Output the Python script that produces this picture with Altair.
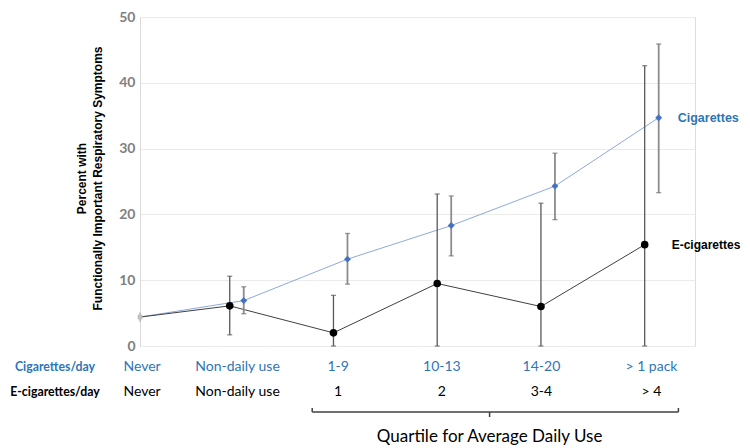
import altair as alt
import pandas as pd

# ---- data ----
cig_categories = ["Never", "Non-daily use", "1-9", "10-13", "14-20", "> 1 pack"]
ecig_categories = ["Never", "Non-daily use", "1", "2", "3-4", "> 4"]
cig_x = [0, 1, 2, 3, 4, 5]
ecig_x = [0, 0.865, 1.865, 2.865, 3.865, 4.865]
label_x = [0.02, 0.94, 1.91, 2.91, 3.87, 4.93]

cig_val = [4.4, 6.9, 13.2, 18.3, 24.3, 34.7]
cig_lo = [3.7, 4.9, 9.4, 13.7, 19.2, 23.3]
cig_hi = [5.1, 9.0, 17.1, 22.8, 29.3, 45.9]

ecig_val = [4.4, 6.1, 2.0, 9.5, 6.0, 15.4]
ecig_lo = [3.7, 1.7, 0.0, 0.0, 0.0, 0.0]
ecig_hi = [5.1, 10.6, 7.7, 23.1, 21.7, 42.6]

bracket_x = [1.66, 5.19]
bracket_mid = 3.37

y_ticks = [0, 10, 20, 30, 40, 50]

cig = pd.DataFrame({"x": cig_x, "v": cig_val, "lo": cig_lo, "hi": cig_hi, "cat": cig_categories})
ecig = pd.DataFrame({"x": ecig_x, "v": ecig_val, "lo": ecig_lo, "hi": ecig_hi, "cat": ecig_categories})
labels = pd.DataFrame({"x": label_x, "cig": cig_categories, "ecig": ecig_categories})

FONT = "Lato"
BLUE_TXT = "#2E75B6"

xs = alt.Scale(domain=[0, 5.35], nice=False, zero=False)
ys = alt.Scale(domain=[0, 50], nice=False)
X = alt.X("x:Q", scale=xs, axis=None)
Y = alt.Y("v:Q", scale=ys, axis=alt.Axis(
    values=y_ticks, grid=True, gridColor="#EBEBEB", domainColor="#D9D9D9",
    ticks=False, labelFont=FONT, labelFontWeight="bold", labelFontSize=14,
    labelColor="#808080", labelPadding=5,
    title=["Percent with", "Functionally Important Respiratory Symptoms"],
    titleFont="Liberation Sans", titleFontSize=12, titleFontWeight="bold",
    titleColor="#000000", titleAngle=270, titleX=-64, titleY=161,
    titleAlign="center", titleBaseline="top", titleLineHeight=16))

base_c = alt.Chart(cig)
base_e = alt.Chart(ecig)

lines_c = base_c.mark_line(color="#8EA9DB", strokeWidth=1).encode(x=X, y=Y)
lines_e = base_e.mark_line(color="#404040", strokeWidth=1).encode(x=X, y="v:Q")

never = cig.iloc[[0]]
never_bar = alt.Chart(never).mark_rule(color="#A6A6A6", strokeWidth=1.2).encode(x=X, y="lo:Q", y2="hi:Q")
never_pt = alt.Chart(never).mark_square(color="#BFBFBF", size=22, opacity=1).encode(x=X, y="v:Q")

cig_rest = cig.iloc[1:]
ecig_rest = ecig.iloc[1:]

err_c = alt.Chart(cig_rest).mark_rule(color="#8C8C8C", strokeWidth=1.8).encode(x=X, y="lo:Q", y2="hi:Q")
cap_c_lo = alt.Chart(cig_rest).mark_tick(color="#6E6E6E", orient="horizontal", size=5, thickness=1.3).encode(x=X, y="lo:Q")
cap_c_hi = alt.Chart(cig_rest).mark_tick(color="#6E6E6E", orient="horizontal", size=5, thickness=1.3).encode(x=X, y="hi:Q")
err_e = alt.Chart(ecig_rest).mark_rule(color="#595959", strokeWidth=1.3).encode(x=X, y="lo:Q", y2="hi:Q")
cap_e_lo = alt.Chart(ecig_rest).mark_tick(color="#595959", orient="horizontal", size=5, thickness=1.3).encode(x=X, y="lo:Q")
cap_e_hi = alt.Chart(ecig_rest).mark_tick(color="#595959", orient="horizontal", size=5, thickness=1.3).encode(x=X, y="hi:Q")

pts_c = alt.Chart(cig_rest).mark_point(shape="diamond", filled=True, color="#4472C4", size=48, opacity=1).encode(x=X, y="v:Q")
pts_e = alt.Chart(ecig_rest).mark_circle(color="#000000", size=58, opacity=1).encode(x=X, y="v:Q")

last_c = cig.iloc[[-1]]
last_e = ecig.iloc[[-1]]
lab_c = alt.Chart(last_c).mark_text(text="Cigarettes", align="left", dx=19, font="Liberation Sans",
                                    fontWeight="bold", fontSize=12.5, color=BLUE_TXT).encode(x=X, y="v:Q")
lab_e = alt.Chart(last_e).mark_text(text="E-cigarettes", align="left", dx=27, font="Liberation Sans",
                                    fontWeight="bold", fontSize=12, color="#000000").encode(x=X, y="v:Q")

row_c = alt.Chart(labels).mark_text(font=FONT, fontSize=14, color=BLUE_TXT, baseline="middle").encode(
    x=X, y=alt.value(350), text="cig:N")
row_e = alt.Chart(labels).mark_text(font=FONT, fontSize=14, color="#000000", baseline="middle").encode(
    x=X, y=alt.value(375), text="ecig:N")
head_c = alt.Chart(labels.iloc[[0]]).mark_text(text="Cigarettes/day", font=FONT, fontSize=12.3, fontWeight="bold",
                                                color=BLUE_TXT, baseline="middle").encode(x=alt.value(-85), y=alt.value(350))
head_e = alt.Chart(labels.iloc[[0]]).mark_text(text="E-cigarettes/day", font=FONT, fontSize=12.3, fontWeight="bold",
                                                color="#000000", baseline="middle").encode(x=alt.value(-85), y=alt.value(375))

br = pd.DataFrame({"x": [bracket_x[0]], "x2": [bracket_x[1]]})
br_h = alt.Chart(br).mark_rule(color="#404040", strokeWidth=1.5).encode(
    x=alt.X("x:Q", scale=xs, axis=None), x2="x2:Q", y=alt.value(395))
br_ends = pd.DataFrame({"x": bracket_x})
br_v = alt.Chart(br_ends).mark_rule(color="#404040", strokeWidth=1.5).encode(
    x=alt.X("x:Q", scale=xs, axis=None), y=alt.value(391), y2=alt.value(395))
br_m = pd.DataFrame({"x": [bracket_mid]})
br_mid = alt.Chart(br_m).mark_rule(color="#404040", strokeWidth=1.5).encode(
    x=alt.X("x:Q", scale=xs, axis=None), y=alt.value(395), y2=alt.value(400))
quart = alt.Chart(br_m).mark_text(text="Quartile for Average Daily Use", font=FONT, fontSize=17,
                                  color="#000000", baseline="middle").encode(
    x=alt.X("x:Q", scale=xs, axis=None), y=alt.value(420))

chart = alt.layer(
    lines_c, lines_e, never_bar, err_c, cap_c_lo, cap_c_hi, err_e, cap_e_lo, cap_e_hi,
    never_pt, pts_c, pts_e, lab_c, lab_e, row_c, row_e, head_c, head_e,
    br_h, br_v, br_mid, quart
).properties(
    width=555, height=329,
    autosize=alt.AutoSizeParams(type="none"),
    padding={"left": 132, "top": 9, "right": 47, "bottom": 102},
).configure_view(stroke=None).configure(background="#FFFFFF")

chart.save("out.html", embed_options={"renderer": "svg", "actions": False})
